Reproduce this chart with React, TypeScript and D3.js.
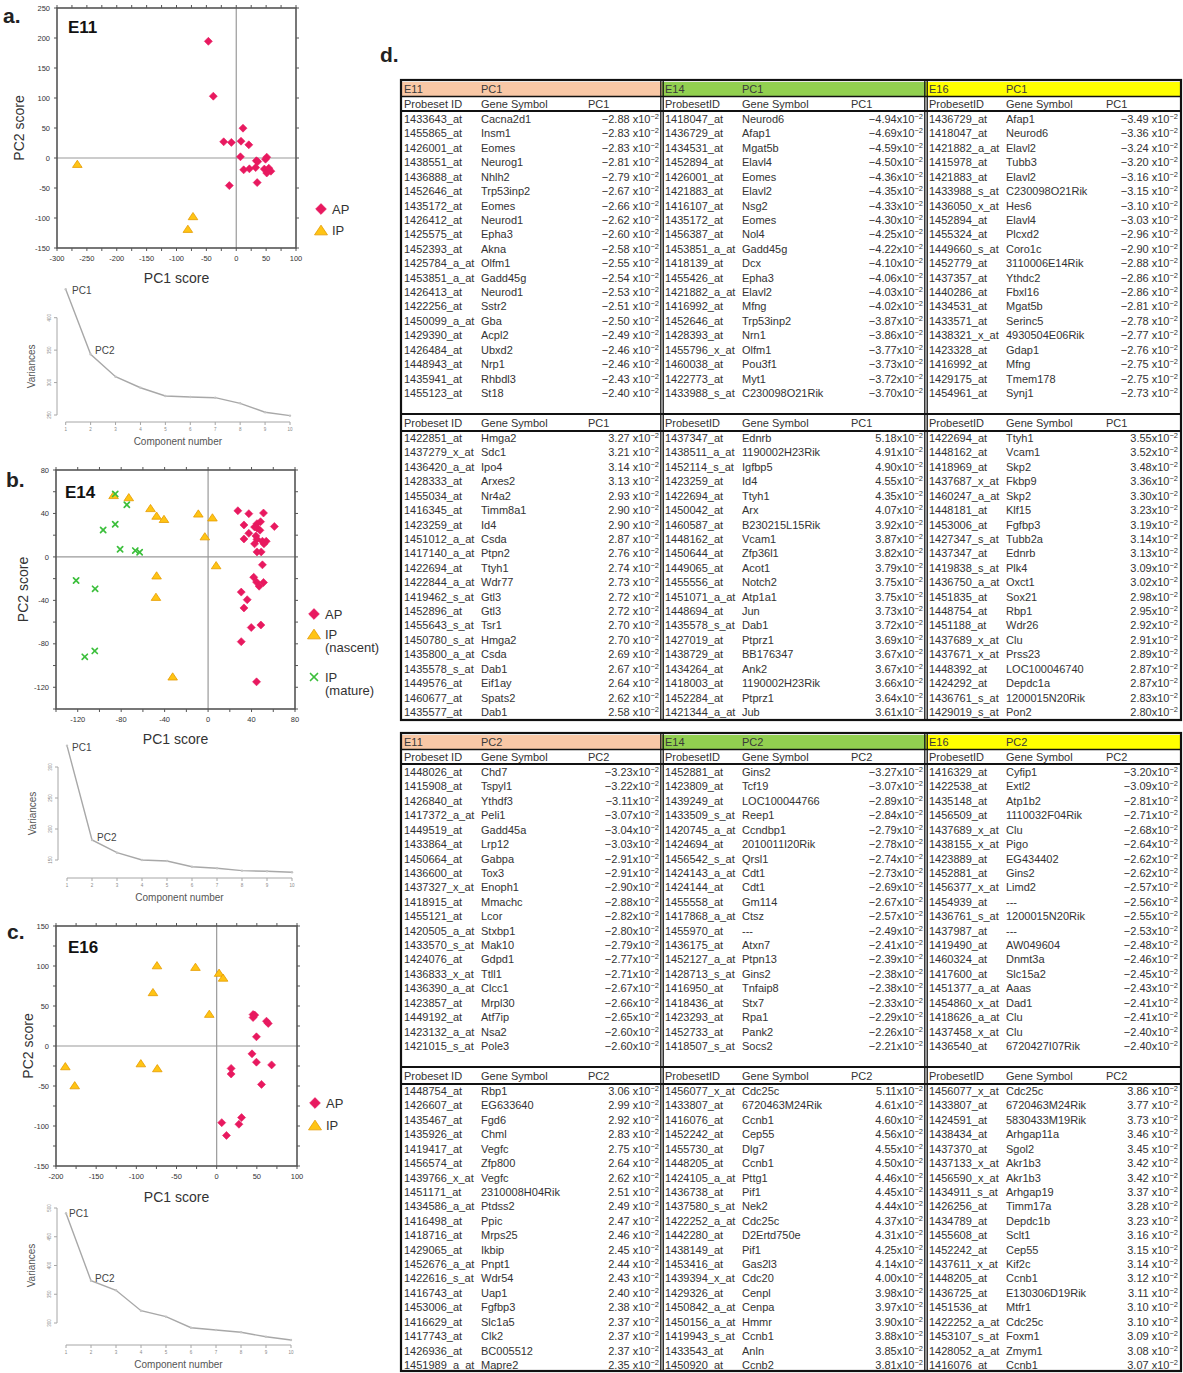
import React from "react";
import * as d3 from "d3";

type Pt = [number, number];
type Row = [string, string, number];

// ---------- PCA score data ----------
const e11Ap: Pt[] = [
  [-46.7, 194.5], [-38.4, 103], [11.3, 49.7], [-21, 27], [-8.2, 26], [8, 28], [21, 22],
  [7, 2], [51, 1.4], [33.6, -4.6], [36, -6], [49, -2], [12.4, -19.7], [22, -18],
  [32.5, -16], [47, -18.5], [53, -20.7], [58, -22], [51, -25], [54.5, -17], [35, -41], [-11.6, -46],
];
const e11Ip: Pt[] = [[-266, -9.7], [-72.4, -96.8], [-81, -118]];

const e14Ap: Pt[] = [
  [27.4, 42.5], [37.5, 39.8], [51, 40.4], [33, 29.4], [48.3, 32.4], [45, 30.6], [42.8, 27.5],
  [45, 26.6], [61, 28], [37.5, 21.7], [44, 19.3], [33, 16.5], [45, 16.2], [50, 14.4],
  [53.5, 14.4], [42.8, 12], [51.4, 12], [45, 4.6], [48.9, 4.6], [47.7, 24.5], [50, -7.3],
  [42, -18.7], [44.6, -23.2], [47, -27], [51, -23.5], [30.5, -32.4], [36, -39.4], [33, -47],
  [39.7, -65], [48.6, -62.7], [30.5, -78], [44.6, -115],
];
const e14IpNascent: Pt[] = [
  [-87, 57], [-73, 55], [-53, 45], [-47.4, 38], [-40.6, 35], [-9, 40], [4, 36.4], [-3, 19],
  [7.4, -7.6], [-47.4, -17], [-48, -36.7], [-32.6, -110],
];
const e14IpMature: Pt[] = [
  [-85.5, 58], [-74.8, 48], [-85.5, 30], [-96.6, 24.8], [-81, 7], [-67, 5.8], [-63, 4.3],
  [-121.5, -21.7], [-104, -29.4], [-104.3, -86.5], [-113.5, -92],
];

const e16Ap: Pt[] = [
  [45.3, 39.3], [47.4, 38.6], [45.3, 35.6], [62, 31], [64.2, 28.2], [49.5, 11.5], [44, -9.8],
  [49.5, -20.2], [68.4, -23.6], [18, -28], [18, -35], [55.8, -48], [31, -89.5], [6.3, -95.8],
  [27.7, -97.8], [12.2, -111.8],
];
const e16Ip: Pt[] = [
  [-74.3, 101], [-26.4, 99], [3, 91.6], [8, 85.5], [-79.3, 67.4], [-9.2, 40.3], [-188.4, -25.2],
  [-176.7, -49], [-94.4, -21.5], [-73.9, -27.7],
];

// tick labels of the score plots
const e11XLabels = [-300, -250, -200, -150, -100, -50, 0, 50, 100];
const e11YLabels = [-150, -100, -50, 0, 50, 100, 150, 200, 250];
const e14XLabels = [-120, -80, -40, 0, 40, 80];
const e14YLabels = [-120, -80, -40, 0, 40, 80];
const e16XLabels = [-200, -150, -100, -50, 0, 50, 100];
const e16YLabels = [-150, -100, -50, 0, 50, 100, 150];

// ---------- scree plot data ----------
const components = [1, 2, 3, 4, 5, 6, 7, 8, 9, 10];
const e11Variances = [443.8, 343.6, 309, 292, 279.3, 277.7, 276.7, 268, 254.2, 249];
const e14Variances = [334.4, 182.3, 161.8, 150, 148.4, 139.2, 136.6, 132.8, 131.8, 130.2];
const e16Variances = [490.8, 373.6, 356.9, 321.4, 311, 291.8, 287.8, 283.8, 276.2, 270.4];
const e11VarTicks = [250, 300, 350, 400];
const e14VarTicks = [150, 200, 250, 300];
const e16VarTicks = [300, 350, 400, 450, 500];

// ---------- loading tables ----------
const e11Pc1Neg: Row[] = [
  ["1433643_at", "Cacna2d1", -2.88], ["1455865_at", "Insm1", -2.83], ["1426001_at", "Eomes", -2.83],
  ["1438551_at", "Neurog1", -2.81], ["1436888_at", "Nhlh2", -2.79], ["1452646_at", "Trp53inp2", -2.67],
  ["1435172_at", "Eomes", -2.66], ["1426412_at", "Neurod1", -2.62], ["1425575_at", "Epha3", -2.6],
  ["1452393_at", "Akna", -2.58], ["1425784_a_at", "Olfm1", -2.55], ["1453851_a_at", "Gadd45g", -2.54],
  ["1426413_at", "Neurod1", -2.53], ["1422256_at", "Sstr2", -2.51], ["1450099_a_at", "Gba", -2.5],
  ["1429390_at", "Acpl2", -2.49], ["1426484_at", "Ubxd2", -2.46], ["1448943_at", "Nrp1", -2.46],
  ["1435941_at", "Rhbdl3", -2.43], ["1455123_at", "St18", -2.4],
];
const e14Pc1Neg: Row[] = [
  ["1418047_at", "Neurod6", -4.94], ["1436729_at", "Afap1", -4.69], ["1434531_at", "Mgat5b", -4.59],
  ["1452894_at", "Elavl4", -4.5], ["1426001_at", "Eomes", -4.36], ["1421883_at", "Elavl2", -4.35],
  ["1416107_at", "Nsg2", -4.33], ["1435172_at", "Eomes", -4.3], ["1456387_at", "Nol4", -4.25],
  ["1453851_a_at", "Gadd45g", -4.22], ["1418139_at", "Dcx", -4.1], ["1455426_at", "Epha3", -4.06],
  ["1421882_a_at", "Elavl2", -4.03], ["1416992_at", "Mfng", -4.02], ["1452646_at", "Trp53inp2", -3.87],
  ["1428393_at", "Nrn1", -3.86], ["1455796_x_at", "Olfm1", -3.77], ["1460038_at", "Pou3f1", -3.73],
  ["1422773_at", "Myt1", -3.72], ["1433988_s_at", "C230098O21Rik", -3.7],
];
const e16Pc1Neg: Row[] = [
  ["1436729_at", "Afap1", -3.49], ["1418047_at", "Neurod6", -3.36], ["1421882_a_at", "Elavl2", -3.24],
  ["1415978_at", "Tubb3", -3.2], ["1421883_at", "Elavl2", -3.16], ["1433988_s_at", "C230098O21Rik", -3.15],
  ["1436050_x_at", "Hes6", -3.1], ["1452894_at", "Elavl4", -3.03], ["1455324_at", "Plcxd2", -2.96],
  ["1449660_s_at", "Coro1c", -2.9], ["1452779_at", "3110006E14Rik", -2.88], ["1437357_at", "Ythdc2", -2.86],
  ["1440286_at", "Fbxl16", -2.86], ["1434531_at", "Mgat5b", -2.81], ["1433571_at", "Serinc5", -2.78],
  ["1438321_x_at", "4930504E06Rik", -2.77], ["1423328_at", "Gdap1", -2.76], ["1416992_at", "Mfng", -2.75],
  ["1429175_at", "Tmem178", -2.75], ["1454961_at", "Synj1", -2.73],
];
const e11Pc1Pos: Row[] = [
  ["1422851_at", "Hmga2", 3.27], ["1437279_x_at", "Sdc1", 3.21], ["1436420_a_at", "Ipo4", 3.14],
  ["1428333_at", "Arxes2", 3.13], ["1455034_at", "Nr4a2", 2.93], ["1416345_at", "Timm8a1", 2.9],
  ["1423259_at", "Id4", 2.9], ["1451012_a_at", "Csda", 2.87], ["1417140_a_at", "Ptpn2", 2.76],
  ["1422694_at", "Ttyh1", 2.74], ["1422844_a_at", "Wdr77", 2.73], ["1419462_s_at", "Gtl3", 2.72],
  ["1452896_at", "Gtl3", 2.72], ["1455643_s_at", "Tsr1", 2.7], ["1450780_s_at", "Hmga2", 2.7],
  ["1435800_a_at", "Csda", 2.69], ["1435578_s_at", "Dab1", 2.67], ["1449576_at", "Eif1ay", 2.64],
  ["1460677_at", "Spats2", 2.62], ["1435577_at", "Dab1", 2.58],
];
const e14Pc1Pos: Row[] = [
  ["1437347_at", "Ednrb", 5.18], ["1438511_a_at", "1190002H23Rik", 4.91], ["1452114_s_at", "Igfbp5", 4.9],
  ["1423259_at", "Id4", 4.55], ["1422694_at", "Ttyh1", 4.35], ["1450042_at", "Arx", 4.07],
  ["1460587_at", "B230215L15Rik", 3.92], ["1448162_at", "Vcam1", 3.87], ["1450644_at", "Zfp36l1", 3.82],
  ["1449065_at", "Acot1", 3.79], ["1455556_at", "Notch2", 3.75], ["1451071_a_at", "Atp1a1", 3.75],
  ["1448694_at", "Jun", 3.73], ["1435578_s_at", "Dab1", 3.72], ["1427019_at", "Ptprz1", 3.69],
  ["1438729_at", "BB176347", 3.67], ["1434264_at", "Ank2", 3.67], ["1418003_at", "1190002H23Rik", 3.66],
  ["1452284_at", "Ptprz1", 3.64], ["1421344_a_at", "Jub", 3.61],
];
const e16Pc1Pos: Row[] = [
  ["1422694_at", "Ttyh1", 3.55], ["1448162_at", "Vcam1", 3.52], ["1418969_at", "Skp2", 3.48],
  ["1437687_x_at", "Fkbp9", 3.36], ["1460247_a_at", "Skp2", 3.3], ["1448181_at", "Klf15", 3.23],
  ["1453006_at", "Fgfbp3", 3.19], ["1427347_s_at", "Tubb2a", 3.14], ["1437347_at", "Ednrb", 3.13],
  ["1419838_s_at", "Plk4", 3.09], ["1436750_a_at", "Oxct1", 3.02], ["1451835_at", "Sox21", 2.98],
  ["1448754_at", "Rbp1", 2.95], ["1451188_at", "Wdr26", 2.92], ["1437689_x_at", "Clu", 2.91],
  ["1437671_x_at", "Prss23", 2.89], ["1448392_at", "LOC100046740", 2.87], ["1424292_at", "Depdc1a", 2.87],
  ["1436761_s_at", "1200015N20Rik", 2.83], ["1429019_s_at", "Pon2", 2.8],
];
const e11Pc2Neg: Row[] = [
  ["1448026_at", "Chd7", -3.23], ["1415908_at", "Tspyl1", -3.22], ["1426840_at", "Ythdf3", -3.11],
  ["1417372_a_at", "Peli1", -3.07], ["1449519_at", "Gadd45a", -3.04], ["1433864_at", "Lrp12", -3.03],
  ["1450664_at", "Gabpa", -2.91], ["1436600_at", "Tox3", -2.91], ["1437327_x_at", "Enoph1", -2.9],
  ["1418915_at", "Mmachc", -2.88], ["1455121_at", "Lcor", -2.82], ["1420505_a_at", "Stxbp1", -2.8],
  ["1433570_s_at", "Mak10", -2.79], ["1424076_at", "Gdpd1", -2.77], ["1436833_x_at", "Ttll1", -2.71],
  ["1436390_a_at", "Clcc1", -2.67], ["1423857_at", "Mrpl30", -2.66], ["1449192_at", "Atf7ip", -2.65],
  ["1423132_a_at", "Nsa2", -2.6], ["1421015_s_at", "Pole3", -2.6],
];
const e14Pc2Neg: Row[] = [
  ["1452881_at", "Gins2", -3.27], ["1423809_at", "Tcf19", -3.07], ["1439249_at", "LOC100044766", -2.89],
  ["1433509_s_at", "Reep1", -2.84], ["1420745_a_at", "Ccndbp1", -2.79], ["1424694_at", "2010011I20Rik", -2.78],
  ["1456542_s_at", "Qrsl1", -2.74], ["1424143_a_at", "Cdt1", -2.73], ["1424144_at", "Cdt1", -2.69],
  ["1455558_at", "Gm114", -2.67], ["1417868_a_at", "Ctsz", -2.57], ["1455970_at", "---", -2.49],
  ["1436175_at", "Atxn7", -2.41], ["1452127_a_at", "Ptpn13", -2.39], ["1428713_s_at", "Gins2", -2.38],
  ["1416950_at", "Tnfaip8", -2.38], ["1418436_at", "Stx7", -2.33], ["1423293_at", "Rpa1", -2.29],
  ["1452733_at", "Pank2", -2.26], ["1418507_s_at", "Socs2", -2.21],
];
const e16Pc2Neg: Row[] = [
  ["1416329_at", "Cyfip1", -3.2], ["1422538_at", "Extl2", -3.09], ["1435148_at", "Atp1b2", -2.81],
  ["1456509_at", "1110032F04Rik", -2.71], ["1437689_x_at", "Clu", -2.68], ["1438155_x_at", "Pigo", -2.64],
  ["1423889_at", "EG434402", -2.62], ["1452881_at", "Gins2", -2.62], ["1456377_x_at", "Limd2", -2.57],
  ["1454939_at", "---", -2.56], ["1436761_s_at", "1200015N20Rik", -2.55], ["1437987_at", "---", -2.53],
  ["1419490_at", "AW049604", -2.48], ["1460324_at", "Dnmt3a", -2.46], ["1417600_at", "Slc15a2", -2.45],
  ["1451377_a_at", "Aaas", -2.43], ["1454860_x_at", "Dad1", -2.41], ["1418626_a_at", "Clu", -2.41],
  ["1437458_x_at", "Clu", -2.4], ["1436540_at", "6720427I07Rik", -2.4],
];
const e11Pc2Pos: Row[] = [
  ["1448754_at", "Rbp1", 3.06], ["1426607_at", "EG633640", 2.99], ["1435467_at", "Fgd6", 2.92],
  ["1435926_at", "Chml", 2.83], ["1419417_at", "Vegfc", 2.75], ["1456574_at", "Zfp800", 2.64],
  ["1439766_x_at", "Vegfc", 2.62], ["1451171_at", "2310008H04Rik", 2.51], ["1434586_a_at", "Ptdss2", 2.49],
  ["1416498_at", "Ppic", 2.47], ["1418716_at", "Mrps25", 2.46], ["1429065_at", "Ikbip", 2.45],
  ["1452676_a_at", "Pnpt1", 2.44], ["1422616_s_at", "Wdr54", 2.43], ["1416743_at", "Uap1", 2.4],
  ["1453006_at", "Fgfbp3", 2.38], ["1416629_at", "Slc1a5", 2.37], ["1417743_at", "Clk2", 2.37],
  ["1426936_at", "BC005512", 2.37], ["1451989_a_at", "Mapre2", 2.35],
];
const e14Pc2Pos: Row[] = [
  ["1456077_x_at", "Cdc25c", 5.11], ["1433807_at", "6720463M24Rik", 4.61], ["1416076_at", "Ccnb1", 4.6],
  ["1452242_at", "Cep55", 4.56], ["1455730_at", "Dlg7", 4.55], ["1448205_at", "Ccnb1", 4.5],
  ["1424105_a_at", "Pttg1", 4.46], ["1436738_at", "Pif1", 4.45], ["1437580_s_at", "Nek2", 4.44],
  ["1422252_a_at", "Cdc25c", 4.37], ["1442280_at", "D2Ertd750e", 4.31], ["1438149_at", "Pif1", 4.25],
  ["1453416_at", "Gas2l3", 4.14], ["1439394_x_at", "Cdc20", 4.0], ["1429326_at", "Cenpl", 3.98],
  ["1450842_a_at", "Cenpa", 3.97], ["1450156_a_at", "Hmmr", 3.9], ["1419943_s_at", "Ccnb1", 3.88],
  ["1433543_at", "Anln", 3.85], ["1450920_at", "Ccnb2", 3.81],
];
const e16Pc2Pos: Row[] = [
  ["1456077_x_at", "Cdc25c", 3.86], ["1433807_at", "6720463M24Rik", 3.77], ["1424591_at", "5830433M19Rik", 3.73],
  ["1438434_at", "Arhgap11a", 3.46], ["1437370_at", "Sgol2", 3.45], ["1437133_x_at", "Akr1b3", 3.42],
  ["1456590_x_at", "Akr1b3", 3.42], ["1434911_s_at", "Arhgap19", 3.37], ["1426256_at", "Timm17a", 3.28],
  ["1434789_at", "Depdc1b", 3.23], ["1455608_at", "Sclt1", 3.16], ["1452242_at", "Cep55", 3.15],
  ["1437611_x_at", "Kif2c", 3.14], ["1448205_at", "Ccnb1", 3.12], ["1436725_at", "E130306D19Rik", 3.11],
  ["1451536_at", "Mtfr1", 3.1], ["1422252_a_at", "Cdc25c", 3.1], ["1453107_s_at", "Foxm1", 3.09],
  ["1428052_a_at", "Zmym1", 3.08], ["1416076_at", "Ccnb1", 3.07],
];

const stages = ["E11", "E14", "E16"];
const probeHeaders = ["Probeset ID", "ProbesetID", "ProbesetID"];

// ---------- styles ----------
const SANS = "'Liberation Sans', Arial, Helvetica, sans-serif";
const AP_COLOR = "#e8195f";
const IP_FILL = "#ffc414";
const IP_STROKE = "#e59b00";
const MATURE_COLOR = "#3cbf3c";
const TEXT = "#333";
const BAND_COLORS = ["#f9c8a6", "#92d050", "#ffff00"];

type Marker = "diamond" | "triangle" | "cross";

function MarkerShape({ kind, cx, cy, k = 1 }: { kind: Marker; cx: number; cy: number; k?: number }) {
  if (kind === "diamond") {
    const r = 4 * k;
    return (
      <polygon
        points={`${cx},${cy - r} ${cx + r},${cy} ${cx},${cy + r} ${cx - r},${cy}`}
        fill={AP_COLOR}
        stroke={AP_COLOR}
        strokeWidth={0.6}
        strokeLinejoin="round"
      />
    );
  }
  if (kind === "triangle") {
    const w = 4.8 * k;
    const h = 3.6 * k;
    return (
      <polygon
        points={`${cx},${cy - h} ${cx + w},${cy + h} ${cx - w},${cy + h}`}
        fill={IP_FILL}
        stroke={IP_STROKE}
        strokeWidth={0.8}
        strokeLinejoin="round"
      />
    );
  }
  const r = 2.6 * k;
  return (
    <g stroke={MATURE_COLOR} strokeWidth={1.7} strokeLinecap="round">
      <line x1={cx - r} y1={cy - r} x2={cx + r} y2={cy + r} />
      <line x1={cx - r} y1={cy + r} x2={cx + r} y2={cy - r} />
    </g>
  );
}

interface Series {
  points: Pt[];
  kind: Marker;
}

interface LegendItem {
  kind: Marker;
  lines: string[];
  y: number;
}

interface ScatterProps {
  letter: string;
  letterPos: [number, number];
  stage: string;
  stagePos: [number, number];
  frame: { x0: number; x1: number; y0: number; y1: number };
  xDomain: [number, number];
  yDomain: [number, number];
  xTickStep: number;
  yTickStep: number;
  xLabels: number[];
  yLabels: number[];
  series: Series[];
  yTitleX: number;
  xTitleY: number;
  legendX: number;
  legend: LegendItem[];
}

function ScorePlot(p: ScatterProps) {
  const { frame } = p;
  const x = d3.scaleLinear().domain(p.xDomain).range([frame.x0, frame.x1]);
  const y = d3.scaleLinear().domain(p.yDomain).range([frame.y1, frame.y0]);
  const xTicks = d3.range(p.xDomain[0], p.xDomain[1] + 1e-6, p.xTickStep);
  const yTicks = d3.range(p.yDomain[0], p.yDomain[1] + 1e-6, p.yTickStep);
  const tl = 3;
  const axisColor = "#555";
  return (
    <g>
      <text x={p.letterPos[0]} y={p.letterPos[1]} fontFamily={SANS} fontWeight="bold" fontSize={21} fill="#222">
        {p.letter}
      </text>
      {/* zero reference lines */}
      <line x1={x(0)} x2={x(0)} y1={frame.y0} y2={frame.y1} stroke="#9a9a9a" strokeWidth={1.2} />
      <line x1={frame.x0} x2={frame.x1} y1={y(0)} y2={y(0)} stroke="#9a9a9a" strokeWidth={1.2} />
      {/* ticks on all four sides */}
      {xTicks.map((t) => (
        <g key={"xt" + t} stroke={axisColor} strokeWidth={1}>
          <line x1={x(t)} x2={x(t)} y1={frame.y1} y2={frame.y1 + tl} />
          <line x1={x(t)} x2={x(t)} y1={frame.y0} y2={frame.y0 - tl} />
        </g>
      ))}
      {yTicks.map((t) => (
        <g key={"yt" + t} stroke={axisColor} strokeWidth={1}>
          <line x1={frame.x0} x2={frame.x0 - tl} y1={y(t)} y2={y(t)} />
          <line x1={frame.x1} x2={frame.x1 + tl} y1={y(t)} y2={y(t)} />
        </g>
      ))}
      <rect
        x={frame.x0}
        y={frame.y0}
        width={frame.x1 - frame.x0}
        height={frame.y1 - frame.y0}
        fill="none"
        stroke={axisColor}
        strokeWidth={1.6}
      />
      {p.xLabels.map((t) => (
        <text
          key={"xl" + t}
          x={x(t)}
          y={frame.y1 + 13}
          textAnchor="middle"
          fontFamily={SANS}
          fontSize={7.5}
          fill={TEXT}
        >
          {String(t)}
        </text>
      ))}
      {p.yLabels.map((t) => (
        <text
          key={"yl" + t}
          x={frame.x0 - 7}
          y={y(t) + 2.6}
          textAnchor="end"
          fontFamily={SANS}
          fontSize={7.5}
          fill={TEXT}
        >
          {String(t)}
        </text>
      ))}
      {p.series.map((s, si) =>
        s.points.map((d, i) => <MarkerShape key={si + "-" + i} kind={s.kind} cx={x(d[0])} cy={y(d[1])} />)
      )}
      <text x={p.stagePos[0]} y={p.stagePos[1]} fontFamily={SANS} fontWeight="bold" fontSize={17} fill="#111">
        {p.stage}
      </text>
      <text
        transform={`translate(${p.yTitleX},${(frame.y0 + frame.y1) / 2}) rotate(-90)`}
        textAnchor="middle"
        fontFamily={SANS}
        fontSize={14}
        fill={TEXT}
      >
        PC2 score
      </text>
      <text
        x={(frame.x0 + frame.x1) / 2}
        y={p.xTitleY}
        textAnchor="middle"
        fontFamily={SANS}
        fontSize={14}
        fill={TEXT}
      >
        PC1 score
      </text>
      {p.legend.map((l, i) => (
        <g key={"lg" + i}>
          <MarkerShape kind={l.kind} cx={p.legendX} cy={l.y} k={1.35} />
          {l.lines.map((s, j) => (
            <text
              key={j}
              x={p.legendX + 11}
              y={l.y + 4.5 + j * 13.5}
              fontFamily={SANS}
              fontSize={13}
              fill={TEXT}
            >
              {s}
            </text>
          ))}
        </g>
      ))}
    </g>
  );
}

interface ScreeProps {
  variances: number[];
  varTicks: number[];
  axisX: number;
  yPx: [number, number]; // pixel of first and last var tick
  xPx: [number, number];
  xAxisY: number;
  pc1Label: [number, number];
  pc2Label: [number, number];
}

function ScreePlot(p: ScreeProps) {
  const vt = p.varTicks;
  const y = d3.scaleLinear().domain([vt[0], vt[vt.length - 1]]).range(p.yPx);
  const x = d3.scaleLinear().domain([1, 10]).range(p.xPx);
  const line = d3
    .line<number>()
    .x((_, i) => x(components[i]))
    .y((v) => y(v));
  const gray = "#a6a6a6";
  const yTop = p.yPx[1];
  const yBot = p.yPx[0];
  return (
    <g>
      <line x1={p.axisX} x2={p.axisX} y1={yTop} y2={yBot} stroke={gray} strokeWidth={1} />
      {vt.map((t) => (
        <g key={"v" + t}>
          <line x1={p.axisX} x2={p.axisX - 3} y1={y(t)} y2={y(t)} stroke={gray} strokeWidth={1} />
          <text
            transform={`translate(${p.axisX - 6},${y(t)}) rotate(-90)`}
            textAnchor="middle"
            fontFamily={SANS}
            fontSize={4.5}
            fill="#888"
          >
            {String(t)}
          </text>
        </g>
      ))}
      <line x1={p.xPx[0]} x2={p.xPx[1]} y1={p.xAxisY} y2={p.xAxisY} stroke={gray} strokeWidth={1} />
      {components.map((c) => (
        <g key={"c" + c}>
          <line x1={x(c)} x2={x(c)} y1={p.xAxisY} y2={p.xAxisY + 3} stroke={gray} strokeWidth={1} />
          <text x={x(c)} y={p.xAxisY + 9} textAnchor="middle" fontFamily={SANS} fontSize={4.5} fill="#888">
            {String(c)}
          </text>
        </g>
      ))}
      <path d={line(p.variances) || ""} fill="none" stroke="#a8a8a8" strokeWidth={1.4} />
      {p.variances.map((v, i) => (
        <circle key={"pt" + i} cx={x(components[i])} cy={y(v)} r={1.2} fill="#c4c4c4" />
      ))}
      <text
        transform={`translate(${p.axisX - 22},${(yTop + yBot) / 2}) rotate(-90)`}
        textAnchor="middle"
        fontFamily={SANS}
        fontSize={10}
        fill="#555"
      >
        Variances
      </text>
      <text
        x={(p.xPx[0] + p.xPx[1]) / 2}
        y={p.xAxisY + 23}
        textAnchor="middle"
        fontFamily={SANS}
        fontSize={10}
        fill="#555"
      >
        Component number
      </text>
      <text x={p.pc1Label[0]} y={p.pc1Label[1]} fontFamily={SANS} fontSize={10} fill="#444">
        PC1
      </text>
      <text x={p.pc2Label[0]} y={p.pc2Label[1]} fontFamily={SANS} fontSize={10} fill="#444">
        PC2
      </text>
    </g>
  );
}

// ---------- table ----------
const COLS = [
  { x0: 401, x1: 662, pcX: 187 },
  { x0: 662, x1: 926, pcX: 189 },
  { x0: 926, x1: 1181, pcX: 180 },
];
const ROW_H = 14.42;

function Loading({ x, y, v, spaced }: { x: number; y: number; v: number; spaced: boolean }) {
  const num = (v < 0 ? "\u2212" : "") + Math.abs(v).toFixed(2);
  return (
    <text x={x} y={y} textAnchor="end" fontFamily={SANS} fontSize={11} fill={TEXT}>
      {num + (spaced ? " " : "") + "x10"}
      <tspan dy={-4} fontSize={7.5}>
        {"\u22122"}
      </tspan>
    </text>
  );
}

function RowsBlock({ rows, col, top, spaced }: { rows: Row[]; col: number; top: number; spaced: boolean }) {
  const c = COLS[col];
  return (
    <g>
      {rows.map((r, i) => {
        const cy = top + i * ROW_H + 4;
        return (
          <g key={i}>
            <text x={c.x0 + 3} y={cy} fontFamily={SANS} fontSize={11} fill={TEXT}>
              {r[0]}
            </text>
            <text x={c.x0 + 80} y={cy} fontFamily={SANS} fontSize={11} fill={TEXT}>
              {r[1]}
            </text>
            <Loading x={c.x1 - 3} y={cy} v={r[2]} spaced={spaced} />
          </g>
        );
      })}
    </g>
  );
}

function ColumnHeader({ col, cy, pc }: { col: number; cy: number; pc: string }) {
  const c = COLS[col];
  return (
    <g fontFamily={SANS} fontSize={11} fill={TEXT}>
      <text x={c.x0 + 3} y={cy + 4}>
        {probeHeaders[col]}
      </text>
      <text x={c.x0 + 80} y={cy + 4}>
        Gene Symbol
      </text>
      <text x={c.x0 + c.pcX} y={cy + 4}>
        {pc}
      </text>
    </g>
  );
}

function TableHalf({
  top,
  pc,
  neg,
  pos,
  negSpaced,
  posSpaced,
  height,
}: {
  top: number;
  pc: string;
  neg: Row[][];
  pos: Row[][];
  negSpaced: boolean[];
  posSpaced: boolean[];
  height: number;
}) {
  const L = COLS[0].x0;
  const R = COLS[2].x1;
  const bottom = top + height;
  return (
    <g>
      {COLS.map((c, i) => (
        <g key={"band" + i}>
          <rect x={c.x0} y={top + 2} width={c.x1 - c.x0} height={14} fill={BAND_COLORS[i]} />
          <text x={c.x0 + 3} y={top + 13} fontFamily={SANS} fontSize={11} fill="#3a3a3a">
            {stages[i]}
          </text>
          <text x={c.x0 + 80} y={top + 13} fontFamily={SANS} fontSize={11} fill="#3a3a3a">
            {pc}
          </text>
        </g>
      ))}
      <line x1={L} x2={R} y1={top + 16.5} y2={top + 16.5} stroke="#111" strokeWidth={1.4} />
      {COLS.map((_, i) => (
        <ColumnHeader key={"h1" + i} col={i} cy={top + 24} pc={pc} />
      ))}
      <line x1={L} x2={R} y1={top + 31} y2={top + 31} stroke="#111" strokeWidth={2} />
      {neg.map((rows, i) => (
        <RowsBlock key={"n" + i} rows={rows} col={i} top={top + 39} spaced={negSpaced[i]} />
      ))}
      <line x1={L} x2={R} y1={top + 334} y2={top + 334} stroke="#111" strokeWidth={2} />
      {COLS.map((_, i) => (
        <ColumnHeader key={"h2" + i} col={i} cy={top + 343} pc={pc} />
      ))}
      <line x1={L} x2={R} y1={top + 351} y2={top + 351} stroke="#111" strokeWidth={2} />
      {pos.map((rows, i) => (
        <RowsBlock key={"p" + i} rows={rows} col={i} top={top + 358} spaced={posSpaced[i]} />
      ))}
      {[COLS[1].x0, COLS[2].x0].map((xv) => (
        <g key={"div" + xv}>
          <line x1={xv - 1.2} x2={xv - 1.2} y1={top} y2={bottom} stroke="#111" strokeWidth={1.3} />
          <line x1={xv + 1.2} x2={xv + 1.2} y1={top} y2={bottom} stroke="#111" strokeWidth={1.3} />
        </g>
      ))}
      <rect x={L} y={top} width={R - L} height={height} fill="none" stroke="#111" strokeWidth={2.2} />
    </g>
  );
}

export default function App() {
  return (
    <div style={{ position: "absolute", left: 0, top: 0 }}>
      <svg width={1183} height={1373} viewBox="0 0 1183 1373" style={{ display: "block", background: "#fff" }}>
        <rect x={0} y={0} width={1183} height={1373} fill="#fff" />

        <ScorePlot
          letter="a."
          letterPos={[3, 23]}
          stage="E11"
          stagePos={[68, 33]}
          frame={{ x0: 57, x1: 296, y0: 8, y1: 248 }}
          xDomain={[-300, 100]}
          yDomain={[-150, 250]}
          xTickStep={25}
          yTickStep={50}
          xLabels={e11XLabels}
          yLabels={e11YLabels}
          series={[
            { points: e11Ap, kind: "diamond" },
            { points: e11Ip, kind: "triangle" },
          ]}
          yTitleX={24}
          xTitleY={283}
          legendX={321}
          legend={[
            { kind: "diamond", lines: ["AP"], y: 209 },
            { kind: "triangle", lines: ["IP"], y: 230 },
          ]}
        />
        <ScreePlot
          variances={e11Variances}
          varTicks={e11VarTicks}
          axisX={57}
          yPx={[415, 317.7]}
          xPx={[65.7, 290]}
          xAxisY={422}
          pc1Label={[72, 294]}
          pc2Label={[95, 354]}
        />

        <ScorePlot
          letter="b."
          letterPos={[6, 487]}
          stage="E14"
          stagePos={[65, 498]}
          frame={{ x0: 56, x1: 295, y0: 470, y1: 709 }}
          xDomain={[-140, 80]}
          yDomain={[-140, 80]}
          xTickStep={20}
          yTickStep={20}
          xLabels={e14XLabels}
          yLabels={e14YLabels}
          series={[
            { points: e14Ap, kind: "diamond" },
            { points: e14IpNascent, kind: "triangle" },
            { points: e14IpMature, kind: "cross" },
          ]}
          yTitleX={28}
          xTitleY={744}
          legendX={314}
          legend={[
            { kind: "diamond", lines: ["AP"], y: 614 },
            { kind: "triangle", lines: ["IP", "(nascent)"], y: 634 },
            { kind: "cross", lines: ["IP", "(mature)"], y: 677 },
          ]}
        />
        <ScreePlot
          variances={e14Variances}
          varTicks={e14VarTicks}
          axisX={58}
          yPx={[860, 767]}
          xPx={[67, 292]}
          xAxisY={878}
          pc1Label={[72, 751]}
          pc2Label={[97, 841]}
        />

        <ScorePlot
          letter="c."
          letterPos={[7, 939]}
          stage="E16"
          stagePos={[68, 953]}
          frame={{ x0: 56, x1: 297, y0: 926, y1: 1166 }}
          xDomain={[-200, 100]}
          yDomain={[-150, 150]}
          xTickStep={25}
          yTickStep={25}
          xLabels={e16XLabels}
          yLabels={e16YLabels}
          series={[
            { points: e16Ap, kind: "diamond" },
            { points: e16Ip, kind: "triangle" },
          ]}
          yTitleX={33}
          xTitleY={1202}
          legendX={315}
          legend={[
            { kind: "diamond", lines: ["AP"], y: 1103 },
            { kind: "triangle", lines: ["IP"], y: 1125 },
          ]}
        />
        <ScreePlot
          variances={e16Variances}
          varTicks={e16VarTicks}
          axisX={57}
          yPx={[1323, 1208]}
          xPx={[66, 291]}
          xAxisY={1345}
          pc1Label={[69, 1217]}
          pc2Label={[95, 1282]}
        />

        <text x={380} y={62} fontFamily={SANS} fontWeight="bold" fontSize={21} fill="#222">
          d.
        </text>
        <TableHalf
          top={80}
          pc="PC1"
          neg={[e11Pc1Neg, e14Pc1Neg, e16Pc1Neg]}
          pos={[e11Pc1Pos, e14Pc1Pos, e16Pc1Pos]}
          negSpaced={[true, false, true]}
          posSpaced={[true, false, false]}
          height={640}
        />
        <TableHalf
          top={733}
          pc="PC2"
          neg={[e11Pc2Neg, e14Pc2Neg, e16Pc2Neg]}
          pos={[e11Pc2Pos, e14Pc2Pos, e16Pc2Pos]}
          negSpaced={[false, false, false]}
          posSpaced={[true, false, true]}
          height={638}
        />
      </svg>
    </div>
  );
}
